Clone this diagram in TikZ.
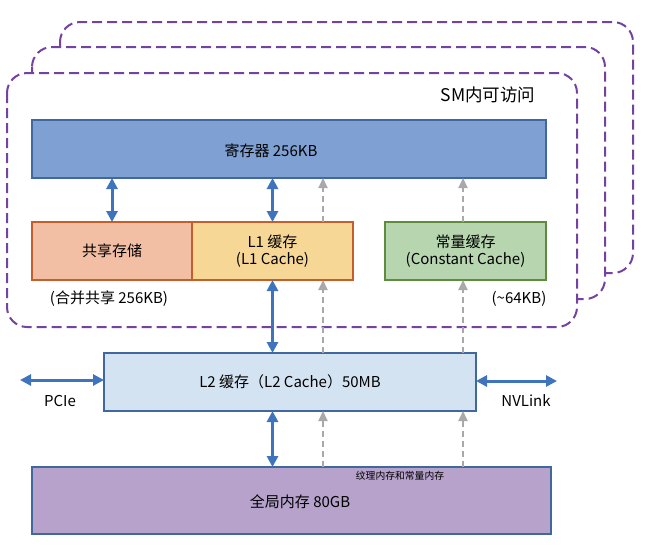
\documentclass[tikz,border=0pt]{standalone}
\usepackage{fontspec}
\setmainfont{Noto Sans CJK SC}
\usetikzlibrary{arrows.meta,positioning}
\definecolor{regfill}{HTML}{7EA0D2}
\definecolor{shmfill}{HTML}{F3BFA4}
\definecolor{l1fill}{HTML}{F7D795}
\definecolor{cstfill}{HTML}{B7D6B0}
\definecolor{l2fill}{HTML}{D4E3F1}
\definecolor{glbfill}{HTML}{B6A2CB}
\definecolor{boxline}{HTML}{41689E}
\definecolor{warmline}{HTML}{C55E2B}
\definecolor{cstline}{HTML}{5F8B3E}
\definecolor{smline}{HTML}{7443A0}
\definecolor{linkblue}{HTML}{3E74BD}
\definecolor{ptrgray}{HTML}{A9A9A9}
\tikzset{
  blk/.style   ={draw, line width=1.6pt, align=center, inner sep=2pt, outer sep=0pt,
                 font=\fontsize{15}{17}\selectfont, minimum height=58pt},
  seg/.style   ={draw=smline, fill=white, line width=2pt, rounded corners=20pt,
                 dash pattern=on 10pt off 5pt},
  flow/.style  ={{Triangle[length=11pt,width=11pt]}-{Triangle[length=11pt,width=11pt]},
                 line width=3pt, draw=linkblue},
  dflow/.style ={-{Triangle[length=10pt,width=9pt]}, line width=2pt, draw=ptrgray,
                 dash pattern=on 6pt off 4pt},
  lbl/.style   ={font=\fontsize{15}{17}\selectfont, inner sep=1pt},
}
\begin{document}
\begin{tikzpicture}[x=1pt, y=-1pt]
\useasboundingbox (0,0) rectangle (647,547);

% ---- SM frames -------------------------------------------------------
\draw[seg] (60,22) rectangle (633,273);
\draw[seg] (32,47) rectangle (605,299);
\draw[seg] (7,73) rectangle (577,327);
\node[lbl, font=\fontsize{17.5}{20}\selectfont] (smlbl) at (488,95) {SM内可访问};

% ---- on-chip storage -------------------------------------------------
\node[blk, fill=regfill, draw=boxline, minimum width=514pt] (reg) at (289,149) {};
\node[lbl] (reglbl) at (271,151) {寄存器 256KB};
\node[blk, fill=shmfill, draw=warmline, minimum width=160pt] (shm) at (112,251) {共享存储};
\node[blk, fill=l1fill, draw=warmline, minimum width=161pt, right=0pt of shm] (l1) {L1 缓存\\(L1 Cache)};
\node[blk, fill=cstfill, draw=cstline, minimum width=161pt] (cst) at (465.5,251) {常量缓存\\(Constant Cache)};
\node[lbl] (shmnote) at (109,299) {(合并共享 256KB)};
\node[lbl] (cstnote) at (519,299) {(\textasciitilde 64KB)};

% ---- L2 and global memory --------------------------------------------
\node[blk, fill=l2fill, draw=boxline, minimum width=372pt] (l2) at (290,382) {L2 缓存（L2 Cache）50MB};
\node[blk, fill=glbfill, draw=boxline, minimum width=519pt, minimum height=67pt] (glb) at (291.5,500.5) {};
\node[lbl] (glblbl) at (300,502) {全局内存 80GB};
\node[lbl, font=\fontsize{9.8}{11}\selectfont] (texlbl) at (400,476) {纹理内存和常量内存};

\coordinate (pcie) at (20,380);
\coordinate (nvl) at (557,381);
\coordinate (tcol) at (323,0);
\coordinate (ccol) at (463,0);
\node[lbl] (pcielbl) at (60,401) {PCIe};
\node[lbl] (nvllbl) at (526,401) {NVLink};

% ---- data paths ------------------------------------------------------
\draw[flow] (reg.south -| shm) -- (shm.north);
\draw[flow] (reg.south -| l1) -- (l1.north);
\draw[flow] (l1.south) -- (l2.north -| l1);
\draw[flow] (l2.south -| l1) -- (glb.north -| l1);
\draw[flow] (pcie) -- (l2.west |- pcie);
\draw[flow] (l2.east |- nvl) -- (nvl);

\draw[dflow] (glb.north -| tcol) -- (l2.south -| tcol);
\draw[dflow] (glb.north -| ccol) -- (l2.south -| ccol);
\draw[dflow] (l2.north -| tcol) -- (l1.south -| tcol);
\draw[dflow] (l2.north -| ccol) -- (cst.south -| ccol);
\draw[dflow] (l1.north -| tcol) -- (reg.south -| tcol);
\draw[dflow] (cst.north -| ccol) -- (reg.south -| ccol);

\end{tikzpicture}
\end{document}
